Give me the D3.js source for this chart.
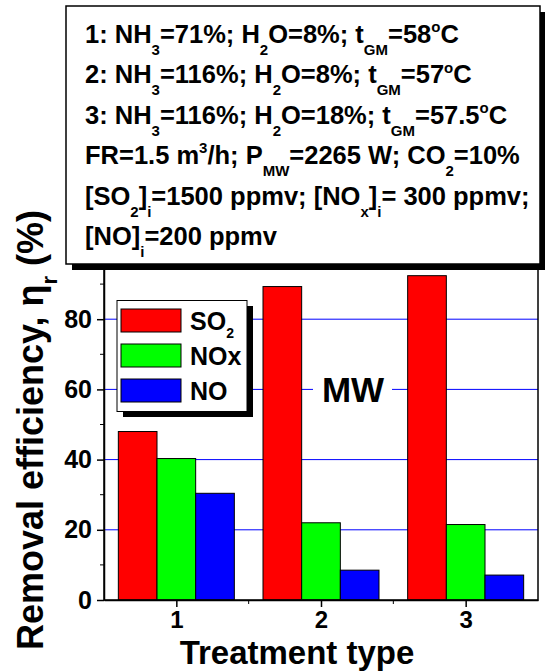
<!DOCTYPE html>
<html>
<head>
<meta charset="utf-8">
<script src="https://cdn.jsdelivr.net/npm/d3@7"></script>
<style>
  body { margin: 0; background: #fff; }
  svg { display: block; font-family: Arial, "Liberation Sans", sans-serif; font-weight: bold; }
</style>
</head>
<body>
<div id="chart"></div>
<script>
// chart values
const categories = [1, 2, 3]
const seriesNames = ["SO2", "NOx", "NO"]
const so2 = [48, 89.3, 92.4]
const nox = [40.3, 22, 21.5]
const no = [30.4, 8.5, 7.1]
const seriesColors = ["#ff0000", "#00ff00", "#0000ff"]
const yTicks = [0, 20, 40, 60, 80]
const yMinor = [10, 30, 50, 70, 90]
const xMinor = [1.5, 2.5]

// legend labels: [text, kind]
const legendLabels = [
    [["SO", "n"], ["2", "sub"]],
    [["NOx", "n"]],
    [["NO", "n"]]
]

// annotation lines
const noteLines = [
    [["1: NH", "n"], ["3", "sub"], ["=71%; H", "n"], ["2", "sub"], ["O=8%; t", "n"], ["GM", "sub"], ["=58", "n"], ["o", "sup"], ["C", "n"]],
    [["2: NH", "n"], ["3", "sub"], ["=116%; H", "n"], ["2", "sub"], ["O=8%; t", "n"], ["GM", "sub"], ["=57", "n"], ["o", "sup"], ["C", "n"]],
    [["3: NH", "n"], ["3", "sub"], ["=116%; H", "n"], ["2", "sub"], ["O=18%; t", "n"], ["GM", "sub"], ["=57.5", "n"], ["o", "sup"], ["C", "n"]],
    [["FR=1.5 m", "n"], ["3", "sup"], ["/h; P", "n"], ["MW", "sub"], ["=2265 W; CO", "n"], ["2", "sub"], ["=10%", "n"]],
    [["[SO", "n"], ["2", "sub"], ["]", "n"], ["i", "sub"], ["=1500 ppmv; [NO", "n"], ["x", "sub"], ["]", "n"], ["i", "sub"], ["= 300 ppmv;", "n"]],
    [["[NO]", "n"], ["i", "sub"], ["=200 ppmv", "n"]]
]

const W = 545, H = 671
const plot = { left: 104, right: 538, top: 249, bottom: 600 }

const svg = d3.select("#chart").append("svg")
    .attr("width", W)
    .attr("height", H)

let x = d3.scaleLinear().domain([0.5, 3.5]).range([plot.left, plot.right])
let y = d3.scaleLinear().domain([0, 100]).range([plot.bottom, plot.top])
let xs = d3.scaleBand().domain(seriesNames).range([-58, 58]).padding(0)

// write text pieces with sub/superscripts as tspans
function richText(sel, parts, size, subSize, drop) {
    let shift = 0
    parts.forEach(function(p) {
        let target = 0
        if (p[1] == "sub") target = drop
        if (p[1] == "sup") target = -size * 0.42
        sel.append("tspan")
            .attr("dy", target - shift)
            .style("font-size", (p[1] == "n" ? size : subSize) + "px")
            .text(p[0])
        shift = target
    })
}

// gridlines
svg.append("g").selectAll("line")
    .data(yTicks.slice(1))
    .enter().append("line")
    .attr("x1", plot.left).attr("x2", plot.right)
    .attr("y1", d => y(d)).attr("y2", d => y(d))
    .attr("stroke", "#0000ff")
    .attr("stroke-width", 1)

// MW label with white background
let mwX = 353, mwY = y(60)
svg.append("rect")
    .attr("x", mwX - 40).attr("y", mwY - 20)
    .attr("width", 79).attr("height", 40)
    .attr("fill", "#fff")
svg.append("text")
    .attr("x", mwX).attr("y", mwY + 12.5)
    .attr("text-anchor", "middle")
    .style("font-size", "35px")
    .text("MW")

// bars
let allValues = [so2, nox, no]
seriesNames.forEach(function(s, si) {
    svg.append("g").selectAll("rect")
        .data(allValues[si])
        .enter().append("rect")
        .attr("x", (d, i) => x(categories[i]) + xs(s))
        .attr("y", d => y(d))
        .attr("width", xs.bandwidth())
        .attr("height", d => y(0) - y(d))
        .attr("fill", seriesColors[si])
        .attr("stroke", "#000")
        .attr("stroke-width", 1)
})

// frame
svg.append("rect")
    .attr("x", plot.left).attr("y", plot.top)
    .attr("width", plot.right - plot.left).attr("height", plot.bottom - plot.top)
    .attr("fill", "none")
    .attr("stroke", "#000")
    .attr("stroke-width", 1.5)

// axes
let yAxis = svg.append("g")
    .attr("transform", "translate(" + plot.left + ",0)")
    .call(d3.axisLeft(y).tickValues(yTicks).tickSize(7).tickSizeOuter(0).tickPadding(5))
yAxis.append("g").selectAll("line")
    .data(yMinor).enter().append("line")
    .attr("x1", -4).attr("x2", 0)
    .attr("y1", d => y(d)).attr("y2", d => y(d))
    .attr("stroke", "#000")
yAxis.selectAll(".tick text").style("font-size", "25px")

let xAxis = svg.append("g")
    .attr("transform", "translate(0," + plot.bottom + ")")
    .call(d3.axisBottom(x).tickValues(categories).tickSize(7).tickSizeOuter(0).tickPadding(7).tickFormat(d3.format("d")))
xAxis.append("g").selectAll("line")
    .data(xMinor).enter().append("line")
    .attr("x1", d => x(d)).attr("x2", d => x(d))
    .attr("y1", 0).attr("y2", 4)
    .attr("stroke", "#000")
xAxis.selectAll(".tick text").style("font-size", "24px").attr("dy", null).attr("y", 28)

svg.selectAll(".tick line").attr("stroke-width", 1.5)
svg.selectAll(".domain").attr("stroke-width", 1.5)
svg.selectAll(".tick text")
    .style("font-family", "Arial, 'Liberation Sans', sans-serif")
    .style("font-weight", "bold")
    .attr("fill", "#000")

// axis titles
svg.append("text")
    .attr("x", 297).attr("y", 664)
    .attr("text-anchor", "middle")
    .style("font-size", "33px")
    .text("Treatment type")

let yTitle = svg.append("text")
    .attr("transform", "translate(43,430) rotate(-90)")
    .attr("text-anchor", "middle")
    .style("font-size", "36px")
richText(yTitle, [["Removal efficiency, \u03b7", "n"], ["r", "sub"], [" (%)", "n"]], 36, 22, 14)

// legend
let lg = svg.append("g")
lg.append("rect")
    .attr("x", 123).attr("y", 306)
    .attr("width", 130).attr("height", 111)
    .attr("fill", "#000")
lg.append("rect")
    .attr("x", 117).attr("y", 300.5)
    .attr("width", 130).attr("height", 111)
    .attr("fill", "#fff")
    .attr("stroke", "#000")
    .attr("stroke-width", 1)
seriesNames.forEach(function(s, i) {
    let ry = 309 + i * 35
    lg.append("rect")
        .attr("x", 121).attr("y", ry)
        .attr("width", 60).attr("height", 23)
        .attr("fill", seriesColors[i])
        .attr("stroke", "#000")
        .attr("stroke-width", 1)
    let t = lg.append("text")
        .attr("x", 190).attr("y", ry + 21)
    richText(t, legendLabels[i], 25, 14, 8)
})

// annotation box
let nb = svg.append("g")
nb.append("rect")
    .attr("x", 72).attr("y", 12)
    .attr("width", 474).attr("height", 258)
    .attr("fill", "#000")
nb.append("rect")
    .attr("x", 66).attr("y", 6)
    .attr("width", 474).attr("height", 258)
    .attr("fill", "#fff")
    .attr("stroke", "#000")
    .attr("stroke-width", 1.5)
noteLines.forEach(function(line, i) {
    let t = nb.append("text")
        .attr("x", 85).attr("y", 43 + i * 40.4)
    richText(t, line, 25.5, 15, 12)
})
</script>
</body>
</html>
